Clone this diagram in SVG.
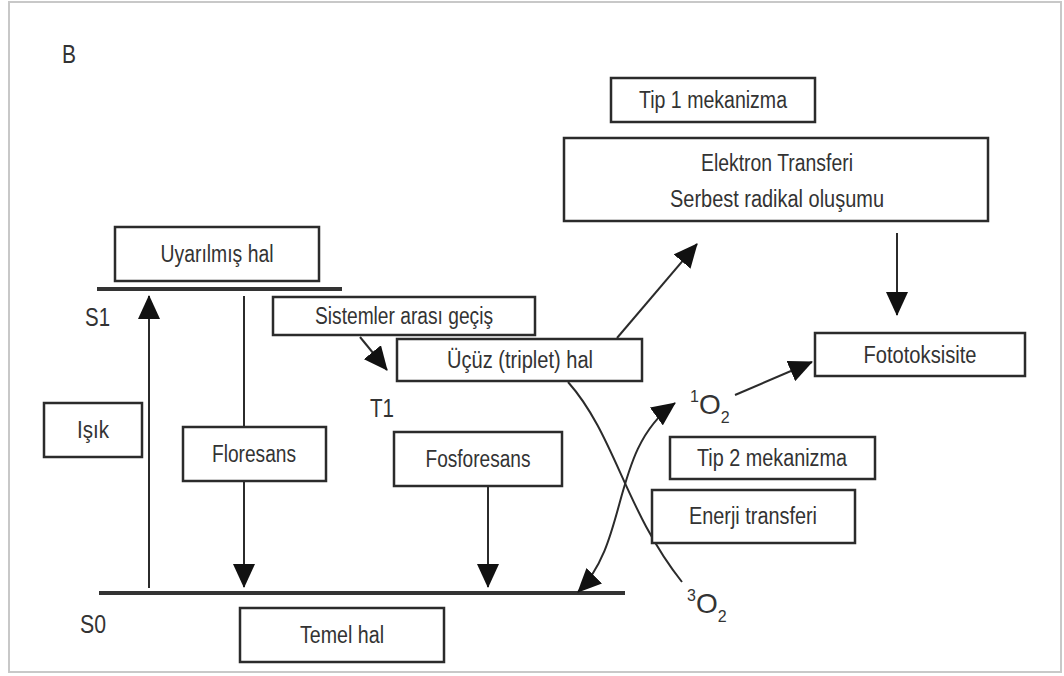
<svg xmlns="http://www.w3.org/2000/svg" width="1064" height="676" viewBox="0 0 1064 676">
<style>
.box{fill:#fff;stroke:#2b2b2b;stroke-width:2.5}
.lbl{font-family:"Liberation Sans Narrow","Liberation Sans",Arial,sans-serif;font-size:23px;fill:#333;text-anchor:middle}
.st{font-family:"Liberation Sans Narrow","Liberation Sans",Arial,sans-serif;font-size:25px;fill:#333}
.ln{fill:none;stroke:#2b2b2b;stroke-width:2}
.lvl{stroke:#333;stroke-width:4}
</style>
<defs>
<marker id="ah" viewBox="0 0 24 22" refX="23" refY="11" markerWidth="24" markerHeight="22" markerUnits="userSpaceOnUse" orient="auto-start-reverse">
<path d="M0,0 L24,11 L0,22 z" fill="#111"/>
</marker>
</defs>
<rect x="9" y="2" width="1052" height="670" fill="#fff" stroke="#c8c8c8" stroke-width="2"/>
<text x="62" y="63" class="st" fill="#444" textLength="14" lengthAdjust="spacingAndGlyphs">B</text>

<g id="levels">
<line class="lvl" x1="97" y1="289" x2="342" y2="289"/>
<line class="lvl" x1="99" y1="593" x2="625" y2="593"/>
<text x="85" y="326" class="st" textLength="25" lengthAdjust="spacingAndGlyphs">S1</text>
<text x="80" y="633" class="st" textLength="26" lengthAdjust="spacingAndGlyphs">S0</text>
<text x="370" y="417" class="st" textLength="24" lengthAdjust="spacingAndGlyphs">T1</text>
</g>

<g id="connectors">
<line class="ln" x1="149" y1="588" x2="149" y2="296" marker-end="url(#ah)"/>
<line class="ln" x1="244" y1="296" x2="244" y2="427"/>
<line class="ln" x1="244" y1="481" x2="244" y2="587" marker-end="url(#ah)"/>
<line class="ln" x1="488" y1="486" x2="488" y2="587" marker-end="url(#ah)"/>
<line class="ln" x1="360" y1="337" x2="387" y2="370" marker-end="url(#ah)"/>
<line class="ln" x1="617" y1="338" x2="697" y2="244" marker-end="url(#ah)"/>
<line class="ln" x1="897" y1="233" x2="897" y2="315" marker-end="url(#ah)"/>
<line class="ln" x1="735" y1="395" x2="812" y2="362" marker-end="url(#ah)"/>
<path class="ln" d="M568,382 C615,435 625,510 682,582"/>
<path class="ln" d="M578,592 C630,540 610,450 675,403" marker-start="url(#ah)" marker-end="url(#ah)"/>
</g>

<g id="tip1"><rect class="box" x="611" y="78" width="204" height="44"/><text class="lbl" x="713" y="108" textLength="148" lengthAdjust="spacingAndGlyphs">Tip 1 mekanizma</text></g>
<g id="elektron"><rect class="box" x="564" y="138" width="424" height="83"/><text class="lbl" x="777" y="171" textLength="152" lengthAdjust="spacingAndGlyphs">Elektron Transferi</text><text class="lbl" x="777" y="207" textLength="214" lengthAdjust="spacingAndGlyphs">Serbest radikal oluşumu</text></g>
<g id="uyarilmis"><rect class="box" x="115" y="227" width="204" height="54"/><text class="lbl" x="217" y="262" textLength="113" lengthAdjust="spacingAndGlyphs">Uyarılmış hal</text></g>
<g id="sistemler"><rect class="box" x="273" y="297" width="262" height="38"/><text class="lbl" x="404" y="324" textLength="178" lengthAdjust="spacingAndGlyphs">Sistemler arası geçiş</text></g>
<g id="ucuz"><rect class="box" x="397" y="339" width="245" height="42"/><text class="lbl" x="520" y="368" textLength="146" lengthAdjust="spacingAndGlyphs">Üçüz (triplet) hal</text></g>
<g id="fototoksisite"><rect class="box" x="815" y="333" width="210" height="43"/><text class="lbl" x="920" y="363" textLength="113" lengthAdjust="spacingAndGlyphs">Fototoksisite</text></g>
<g id="o2singlet"><text class="st" x="690" y="414"><tspan font-size="16" dy="-12">1</tspan><tspan font-size="28" dy="12">O</tspan><tspan font-size="16" dy="9">2</tspan></text></g>
<g id="tip2"><rect class="box" x="670" y="437" width="205" height="42"/><text class="lbl" x="772" y="466" textLength="150" lengthAdjust="spacingAndGlyphs">Tip 2 mekanizma</text></g>
<g id="enerji"><rect class="box" x="652" y="490" width="203" height="53"/><text class="lbl" x="753" y="524" textLength="128" lengthAdjust="spacingAndGlyphs">Enerji transferi</text></g>
<g id="isik"><rect class="box" x="44" y="403" width="98" height="54"/><text class="lbl" x="93" y="438" textLength="32" lengthAdjust="spacingAndGlyphs">Işık</text></g>
<g id="floresans"><rect class="box" x="183" y="427" width="143" height="54"/><text class="lbl" x="254" y="462" textLength="84" lengthAdjust="spacingAndGlyphs">Floresans</text></g>
<g id="fosforesans"><rect class="box" x="394" y="432" width="168" height="54"/><text class="lbl" x="478" y="467" textLength="105" lengthAdjust="spacingAndGlyphs">Fosforesans</text></g>
<g id="o2triplet"><text class="st" x="687" y="613"><tspan font-size="16" dy="-12">3</tspan><tspan font-size="28" dy="12">O</tspan><tspan font-size="16" dy="9">2</tspan></text></g>
<g id="temel"><rect class="box" x="240" y="608" width="204" height="54"/><text class="lbl" x="342" y="643" textLength="84" lengthAdjust="spacingAndGlyphs">Temel hal</text></g>
</svg>
